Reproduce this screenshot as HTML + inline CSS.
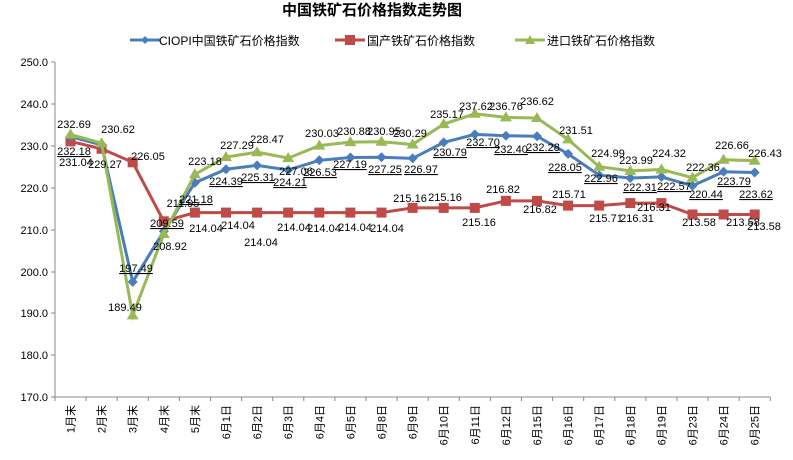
<!DOCTYPE html>
<html><head><meta charset="utf-8"><style>
body{margin:0;background:#fff;}
svg{display:block;font-family:"Liberation Sans","Noto Sans CJK SC",sans-serif;}
.t{font-size:11px;fill:#000;text-anchor:middle;}
.u{text-decoration:underline;}
.ax{font-size:11px;text-anchor:end;}
</style></head><body>
<svg width="793" height="460" viewBox="0 0 793 460" xmlns="http://www.w3.org/2000/svg">
<text x="372" y="15" style="font-size:15px;font-weight:bold" text-anchor="middle">中国铁矿石价格指数走势图</text>
<g font-size="12">
<line x1="130" y1="40" x2="160" y2="40" stroke="#4A7EBB" stroke-width="3"/><path d="M145 36 L149 40 L145 44 L141 40Z" fill="#4A7EBB"/>
<text x="159" y="45">CIOPI中国铁矿石价格指数</text>
<line x1="335" y1="40" x2="365" y2="40" stroke="#BE4B48" stroke-width="3"/><rect x="345" y="35" width="10" height="10" fill="#BE4B48"/>
<text x="367" y="45">国产铁矿石价格指数</text>
<line x1="515" y1="40" x2="545" y2="40" stroke="#98B954" stroke-width="3"/><path d="M530 35 L535 44 L525 44Z" fill="#98B954"/>
<text x="547" y="45">进口铁矿石价格指数</text>
</g>
<g stroke="#888" stroke-width="1">
<line x1="55" y1="62" x2="55" y2="397"/><line x1="55" y1="397" x2="770" y2="397"/>
<line x1="51" y1="62" x2="55" y2="62"/><line x1="51" y1="104" x2="55" y2="104"/><line x1="51" y1="146" x2="55" y2="146"/><line x1="51" y1="188" x2="55" y2="188"/><line x1="51" y1="230" x2="55" y2="230"/><line x1="51" y1="272" x2="55" y2="272"/><line x1="51" y1="313" x2="55" y2="313"/><line x1="51" y1="355" x2="55" y2="355"/><line x1="51" y1="397" x2="55" y2="397"/>
</g>
<g class="ax">
<text x="48" y="66">250.0</text><text x="48" y="108">240.0</text><text x="48" y="150">230.0</text><text x="48" y="192">220.0</text><text x="48" y="234">210.0</text><text x="48" y="276">200.0</text><text x="48" y="317">190.0</text><text x="48" y="359">180.0</text><text x="48" y="401">170.0</text>
</g>
<g stroke="#888"><path d="M55 397v4M86.1 397v4M117.2 397v4M148.3 397v4M179.4 397v4M210.5 397v4M241.6 397v4M272.7 397v4M303.8 397v4M334.9 397v4M366 397v4M397.1 397v4M428.2 397v4M459.3 397v4M490.4 397v4M521.5 397v4M552.6 397v4M583.7 397v4M614.8 397v4M645.9 397v4M677 397v4M708.1 397v4M739.2 397v4M770.3 397v4"/></g>
<g font-size="11" text-anchor="end">
<text transform="translate(74.5,405) rotate(-90)">1月末</text>
<text transform="translate(105.6,405) rotate(-90)">2月末</text>
<text transform="translate(136.7,405) rotate(-90)">3月末</text>
<text transform="translate(167.8,405) rotate(-90)">4月末</text>
<text transform="translate(198.9,405) rotate(-90)">5月末</text>
<text transform="translate(230,405) rotate(-90)">6月1日</text>
<text transform="translate(261.1,405) rotate(-90)">6月2日</text>
<text transform="translate(292.2,405) rotate(-90)">6月3日</text>
<text transform="translate(323.3,405) rotate(-90)">6月4日</text>
<text transform="translate(354.4,405) rotate(-90)">6月5日</text>
<text transform="translate(385.5,405) rotate(-90)">6月8日</text>
<text transform="translate(416.6,405) rotate(-90)">6月9日</text>
<text transform="translate(447.7,405) rotate(-90)">6月10日</text>
<text transform="translate(478.8,405) rotate(-90)">6月11日</text>
<text transform="translate(509.9,405) rotate(-90)">6月12日</text>
<text transform="translate(541,405) rotate(-90)">6月15日</text>
<text transform="translate(572.1,405) rotate(-90)">6月16日</text>
<text transform="translate(603.2,405) rotate(-90)">6月17日</text>
<text transform="translate(634.3,405) rotate(-90)">6月18日</text>
<text transform="translate(665.4,405) rotate(-90)">6月19日</text>
<text transform="translate(696.5,405) rotate(-90)">6月23日</text>
<text transform="translate(727.6,405) rotate(-90)">6月24日</text>
<text transform="translate(758.7,405) rotate(-90)">6月25日</text>
</g>
<!-- red -->
<polyline fill="none" stroke="#BE4B48" stroke-width="3" points="70.5,141.4 101.6,148.8 132.7,162.3 163.8,221.3 194.9,212.6 226,212.6 257.1,212.6 288.2,212.6 319.3,212.6 350.4,212.6 381.5,212.6 412.6,207.9 443.7,207.9 474.8,207.9 505.9,200.9 537,200.9 568.1,205.6 599.2,205.6 630.3,203.1 661.4,203.1 692.5,214.5 723.6,214.5 754.7,214.5"/>
<g fill="#BE4B48">
<rect x="65.5" y="136.4" width="10" height="10"/><rect x="96.6" y="143.8" width="10" height="10"/><rect x="127.7" y="157.3" width="10" height="10"/><rect x="158.8" y="216.3" width="10" height="10"/><rect x="189.9" y="207.6" width="10" height="10"/><rect x="221" y="207.6" width="10" height="10"/><rect x="252.1" y="207.6" width="10" height="10"/><rect x="283.2" y="207.6" width="10" height="10"/><rect x="314.3" y="207.6" width="10" height="10"/><rect x="345.4" y="207.6" width="10" height="10"/><rect x="376.5" y="207.6" width="10" height="10"/><rect x="407.6" y="202.9" width="10" height="10"/><rect x="438.7" y="202.9" width="10" height="10"/><rect x="469.8" y="202.9" width="10" height="10"/><rect x="500.9" y="195.9" width="10" height="10"/><rect x="532" y="195.9" width="10" height="10"/><rect x="563.1" y="200.6" width="10" height="10"/><rect x="594.2" y="200.6" width="10" height="10"/><rect x="625.3" y="198.1" width="10" height="10"/><rect x="656.4" y="198.1" width="10" height="10"/><rect x="687.5" y="209.5" width="10" height="10"/><rect x="718.6" y="209.5" width="10" height="10"/><rect x="749.7" y="209.5" width="10" height="10"/>
</g>
<!-- blue -->
<polyline fill="none" stroke="#4A7EBB" stroke-width="3" points="70.5,136.6 101.6,144.9 132.7,281.9 163.8,231.2 194.9,182.7 226,169.2 257.1,165.4 288.2,170 319.3,160.3 350.4,157.5 381.5,157.3 412.6,158.4 443.7,142.4 474.8,134.4 505.9,135.7 537,136.2 568.1,153.9 599.2,175.2 630.3,178 661.4,176.9 692.5,185.8 723.6,171.8 754.7,172.5"/>
<g fill="#4A7EBB">
<path d="M70.5 131.6l5 5-5 5-5-5z M101.6 139.9l5 5-5 5-5-5z M132.7 276.9l5 5-5 5-5-5z M163.8 226.2l5 5-5 5-5-5z M194.9 177.7l5 5-5 5-5-5z M226 164.2l5 5-5 5-5-5z M257.1 160.4l5 5-5 5-5-5z M288.2 165l5 5-5 5-5-5z M319.3 155.3l5 5-5 5-5-5z M350.4 152.5l5 5-5 5-5-5z M381.5 152.3l5 5-5 5-5-5z M412.6 153.4l5 5-5 5-5-5z M443.7 137.4l5 5-5 5-5-5z M474.8 129.4l5 5-5 5-5-5z M505.9 130.7l5 5-5 5-5-5z M537 131.2l5 5-5 5-5-5z M568.1 148.9l5 5-5 5-5-5z M599.2 170.2l5 5-5 5-5-5z M630.3 173l5 5-5 5-5-5z M661.4 171.9l5 5-5 5-5-5z M692.5 180.8l5 5-5 5-5-5z M723.6 166.8l5 5-5 5-5-5z M754.7 167.5l5 5-5 5-5-5z"/>
</g>
<!-- green -->
<polyline fill="none" stroke="#98B954" stroke-width="3" points="70.5,134.5 101.6,143.2 132.7,315.4 163.8,234 194.9,174.3 226,157.1 257.1,152.2 288.2,158.1 319.3,145.6 350.4,142.1 381.5,141.8 412.6,144.5 443.7,124.1 474.8,113.8 505.9,117.4 537,118 568.1,139.4 599.2,166.7 630.3,170.9 661.4,169.5 692.5,177.7 723.6,159.7 754.7,160.7"/>
<g fill="#98B954">
<path d="M70.5 128.5l6 10h-12z M101.6 137.2l6 10h-12z M132.7 309.4l6 10h-12z M163.8 228l6 10h-12z M194.9 168.3l6 10h-12z M226 151.1l6 10h-12z M257.1 146.2l6 10h-12z M288.2 152.1l6 10h-12z M319.3 139.6l6 10h-12z M350.4 136.1l6 10h-12z M381.5 135.8l6 10h-12z M412.6 138.5l6 10h-12z M443.7 118.1l6 10h-12z M474.8 107.8l6 10h-12z M505.9 111.4l6 10h-12z M537 112l6 10h-12z M568.1 133.4l6 10h-12z M599.2 160.7l6 10h-12z M630.3 164.9l6 10h-12z M661.4 163.5l6 10h-12z M692.5 171.7l6 10h-12z M723.6 153.7l6 10h-12z M754.7 154.7l6 10h-12z"/>
</g>
<!-- green labels -->
<g class="t">
<text x="74" y="128">232.69</text><text x="118" y="133">230.62</text><text x="125" y="311">189.49</text><text x="170" y="250">208.92</text><text x="205" y="165">223.18</text><text x="237" y="149">227.29</text><text x="267" y="143">228.47</text><text x="296" y="175">227.06</text><text x="322" y="137">230.03</text><text x="354" y="135">230.88</text><text x="384" y="135">230.95</text><text x="410" y="137">230.29</text><text x="447" y="118">235.17</text><text x="476" y="110">237.62</text><text x="506" y="110">236.76</text><text x="537" y="105">236.62</text><text x="576" y="134">231.51</text><text x="608" y="157">224.99</text><text x="636" y="164">223.99</text><text x="669" y="157">224.32</text><text x="703" y="171">222.36</text><text x="732" y="149">226.66</text><text x="765" y="157">226.43</text>
</g>
<!-- blue labels -->
<g class="t u">
<text x="74" y="155">232.18</text><text x="136" y="272">197.49</text><text x="167" y="227">209.59</text><text x="196" y="203">221.18</text><text x="226" y="185">224.39</text><text x="258" y="181">225.31</text><text x="290" y="186">224.21</text><text x="320" y="176">226.53</text><text x="350" y="168">227.19</text><text x="385" y="173">227.25</text><text x="421" y="173">226.97</text><text x="450" y="156">230.79</text><text x="483" y="146">232.70</text><text x="511" y="153">232.40</text><text x="543" y="151">232.28</text><text x="565" y="171">228.05</text><text x="601" y="182">222.96</text><text x="640" y="191">222.31</text><text x="674" y="190">222.57</text><text x="706" y="198">220.44</text><text x="734" y="185">223.79</text><text x="756" y="198">223.62</text>
</g>
<!-- red labels -->
<g class="t">
<text x="76" y="166">231.04</text><text x="105" y="168">229.27</text><text x="148" y="160">226.05</text><text x="183" y="207">211.95</text><text x="206" y="232">214.04</text><text x="238" y="229">214.04</text><text x="261" y="246">214.04</text><text x="294" y="231">214.04</text><text x="324" y="232">214.04</text><text x="355" y="231">214.04</text><text x="387" y="232">214.04</text><text x="410" y="202">215.16</text><text x="445" y="201">215.16</text><text x="479" y="226">215.16</text><text x="503" y="193">216.82</text><text x="540" y="213">216.82</text><text x="569" y="198">215.71</text><text x="606" y="222">215.71</text><text x="637" y="222">216.31</text><text x="654" y="211">216.31</text><text x="699" y="226">213.58</text><text x="743" y="226">213.58</text><text x="764" y="230">213.58</text>
</g>
</svg>
</body></html>
